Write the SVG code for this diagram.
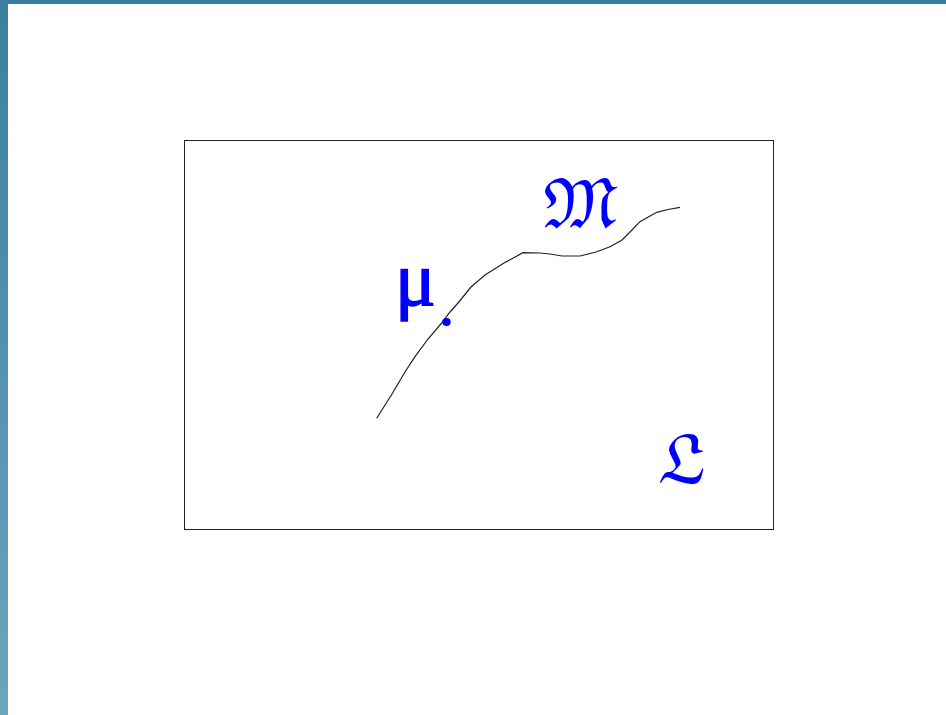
<svg xmlns="http://www.w3.org/2000/svg" width="946" height="715" viewBox="0 0 946 715">
<defs>
<linearGradient id="lg" x1="0" y1="0" x2="0" y2="1">
<stop offset="0" stop-color="#3a7f9f"/>
<stop offset="1" stop-color="#6ca5bd"/>
</linearGradient>
<style>
.lbl{fill:#0000ff;}
.frak{font-family:"DejaVu Math TeX Gyre","DejaVu Serif","Noto Sans",serif;font-size:62px;}
.greek{font-family:"Liberation Serif","DejaVu Serif",serif;font-size:76px;}
</style>
</defs>
<rect width="946" height="715" fill="#fff"/>
<rect x="0" y="0" width="946" height="4" fill="#3a7f9f"/>
<rect x="0" y="0" width="8" height="715" fill="url(#lg)"/>
<g id="space">
<rect x="184.5" y="140.5" width="589" height="389" fill="none" stroke="#222" stroke-width="1"/>
</g>
<g id="connectors">
<polyline points="376.7,418.3 392,394 405,372 415,356.7 428,339 441.7,323 450,312 458,303 471,287 485,275 504,263 523,252.7 540,253 550,254 562,256 580,256 596,252 610,246.7 622,240 632,230 640,221.7 656.7,212.3 668,209.5 680,207.3" fill="none" stroke="#222" stroke-width="1.2"/>
</g>
<g id="point">
<ellipse cx="446.5" cy="322" rx="4.2" ry="4" fill="#0000ff"/>
<text class="lbl greek" x="395" y="305" stroke="#0000ff" stroke-width="1.5">μ</text>
</g>
<g id="manifold">
<text class="lbl frak" x="540" y="226">𝔐</text>
</g>
<g id="L">
<text class="lbl frak" x="655" y="482">𝔏</text>
</g>
</svg>
